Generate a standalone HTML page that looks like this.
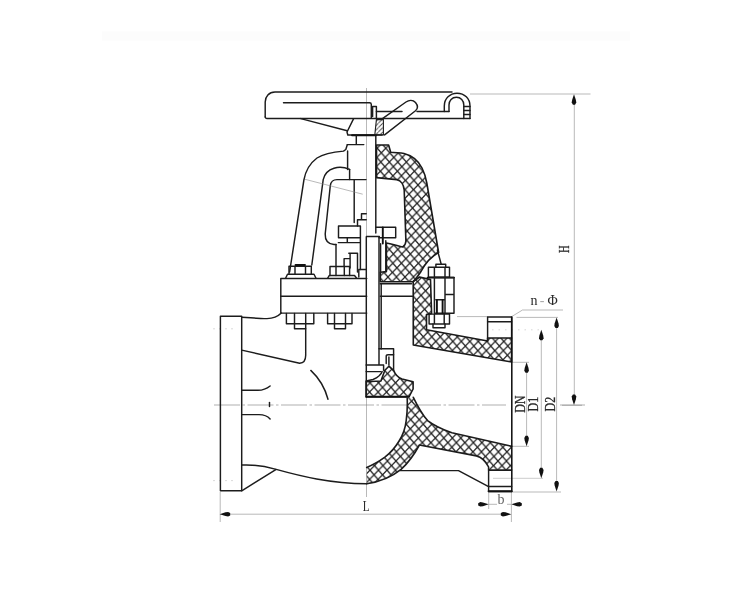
<!DOCTYPE html>
<html><head><meta charset="utf-8"><title>valve</title>
<style>
html,body{margin:0;padding:0;background:#fff;}
body{width:738px;height:596px;overflow:hidden;position:relative;font-family:"Liberation Serif",serif;}
svg{position:absolute;left:0;top:0;display:block;}
.t,.c{filter:blur(0.35px)}
.B{filter:blur(0.65px)}
.m{fill:none;stroke:#1c1c1c;stroke-width:1.45;stroke-linejoin:round;stroke-linecap:round}
.k{fill:none;stroke:#111;stroke-width:1.9;stroke-linejoin:round;stroke-linecap:round}
.t{fill:none;stroke:#8a8a8a;stroke-width:0.6}
.c{fill:none;stroke:#7a7a7a;stroke-width:0.6}
.h{fill:url(#xh);stroke:#1a1a1a;stroke-width:1.6;stroke-linejoin:round}
.a{fill:#111;stroke:none}
text{font-family:"Liberation Serif",serif;font-size:11px;fill:#2a2a2a}
</style></head><body>
<svg width="738" height="596" viewBox="0 0 738 596">
<defs>
<pattern id="xh" width="8.5" height="9.2" patternUnits="userSpaceOnUse" x="2" y="1" patternTransform="skewX(-2.8)">
<path d="M-1,-1.082L9.5,10.282M-1,10.282L9.5,-1.082" stroke="#202020" stroke-width="1.3" fill="none"/>
</pattern>
<pattern id="dh" width="4.4" height="4.4" patternUnits="userSpaceOnUse">
<path d="M-1,5.4L5.4,-1" stroke="#444" stroke-width="0.9" fill="none"/>
</pattern>
</defs>
<rect width="738" height="596" fill="#fff"/>
<rect x="102" y="31.5" width="528" height="9" fill="#fcfcfc"/>
<!-- centre lines -->
<path class="c" d="M366.4,88V497"/>
<path class="c" d="M214,405H506" stroke-dasharray="26 2.5 2.5 2.5" stroke="#8a8a8a" stroke-width="0.6"/>
<path class="c" d="M560,405H585" stroke="#aaa" stroke-width="0.6"/>

<path d="M213,328.8H237M213,480.6H237" stroke="#ccc" stroke-width="0.7" stroke-dasharray="2 4" fill="none"/>
<!-- dimension lines -->
<g class="t">
<path d="M470,94H590.5"/>
<path d="M574.3,100V399"/>
<path d="M562,405.3H582"/>
<path d="M220.2,492V522M511.4,492V522"/>
<path d="M226,514.2H505"/>
<path d="M488.7,492V509"/>
<path d="M488.7,504.3H497M507,504.3H511"/>
<path d="M526.6,368V440M512,362.3H529M512,446.3H529"/>
<path d="M541.3,336V472"/>
<path d="M492,329.8H543" stroke-dasharray="1.5 5" stroke="#bbb"/>
<path d="M493,478.3H543" stroke="#aaa"/>
<path d="M556.6,324V485M516.5,317.4H558M512,492H561"/>
<path d="M512,316.4L522.5,310H563"/>
<path d="M457,316.6H488"/>
</g>
<g class="B">
<!-- arrows -->
<g class="a">
<path d="M574.0,94.2L575.9,100.0L576.3,102.6L575.1,104.7L572.9,104.7L571.7,102.6L572.1,100.0Z"/>
<path d="M574.0,405.0L572.1,399.2L571.7,396.6L572.9,394.5L575.1,394.5L576.3,396.6L575.9,399.2Z"/>
<path d="M219.7,514.2L225.5,512.3L228.1,511.9L230.2,513.1L230.2,515.4L228.1,516.5L225.5,516.1Z"/>
<path d="M511.3,514.2L505.5,516.1L502.9,516.5L500.8,515.4L500.8,513.1L502.9,511.9L505.5,512.3Z"/>
<path d="M488.7,504.3L482.9,506.2L480.3,506.6L478.2,505.4L478.2,503.2L480.3,502.0L482.9,502.4Z"/>
<path d="M511.3,504.3L517.1,502.4L519.7,502.0L521.8,503.2L521.8,505.4L519.7,506.6L517.1,506.2Z"/>
<path d="M526.6,362.3L528.5,368.1L528.9,370.7L527.8,372.8L525.5,372.8L524.3,370.7L524.7,368.1Z"/>
<path d="M526.6,446.3L524.7,440.5L524.3,437.9L525.5,435.8L527.8,435.8L528.9,437.9L528.5,440.5Z"/>
<path d="M541.3,329.8L543.2,335.6L543.6,338.2L542.4,340.3L540.1,340.3L539.0,338.2L539.4,335.6Z"/>
<path d="M541.3,478.3L539.4,472.5L539.0,469.9L540.1,467.8L542.4,467.8L543.6,469.9L543.2,472.5Z"/>
<path d="M556.6,317.5L558.5,323.3L558.9,325.9L557.8,328.0L555.5,328.0L554.3,325.9L554.7,323.3Z"/>
<path d="M556.6,491.5L554.7,485.7L554.3,483.1L555.5,481.0L557.8,481.0L558.9,483.1L558.5,485.7Z"/>
</g>

<!-- labels -->
<text transform="translate(362.8,510.7) scale(0.8,1)" style="font-size:14px">L</text>
<text x="497.6" y="504.3" style="font-size:14px;fill:#666">b</text>
<text transform="translate(568.9,249.3) rotate(-90) scale(0.7,1)" text-anchor="middle" style="font-size:15px;stroke:#2a2a2a;stroke-width:0.3">H</text>
<text transform="translate(524.5,404.2) rotate(-90) scale(0.8,1)" text-anchor="middle" style="font-size:15px;stroke:#2a2a2a;stroke-width:0.3">DN</text>
<text transform="translate(538.3,404.2) rotate(-90) scale(0.8,1)" text-anchor="middle" style="font-size:15px;stroke:#2a2a2a;stroke-width:0.3">D1</text>
<text transform="translate(554.6,404.2) rotate(-90) scale(0.8,1)" text-anchor="middle" style="font-size:15px;stroke:#2a2a2a;stroke-width:0.3">D2</text>
<text y="305" style="font-size:14px"><tspan x="530.4">n</tspan><tspan x="539.8" style="fill:#aaa">-</tspan><tspan x="547.6" style="font-size:14px">Φ</tspan></text>

<!-- ============ hatched regions ============ -->
<!-- bonnet -->
<path class="h" d="M376.5,145H388.6L390.7,152.2C396,153 400,152.5 404,153.5C412,155.5 418,160 422,168C425,174 426,178 426.8,183L438.6,252.5C432,256 426,262 421,271.5C418,276 416,279 413,281.7H380.3V272.2L386.4,271.5V243C393,244 398,246 402.8,247C405,245.5 405.8,243 405.9,241L404.2,190C403.8,185 401,180.5 396.7,179.6L376.5,177.6Z"/>
<!-- body neck + upper outlet -->
<path class="h" d="M413.2,281.7L419.6,277L430.5,279.6L431.6,313.5L426.5,314.6V329.8L487.6,341V338H511.6V362L413.3,345Z"/>
<!-- seat -->
<path class="h" d="M366.1,381.7L380.9,381L384.9,370.3L388.9,366.2L393.6,370.3C395,374 398,377.5 402,379L413.1,381.7V389L409,397H366.1Z"/>
<!-- lower wall -->
<path class="h" style="stroke:none" d="M407.2,398.3L413.3,397.3C417,405 422,414 427.6,420.6C436,427 444,430 451.9,432.8L511.6,446.3V470.1H488.6V467C485,460 481,457 476.4,455.9L419.4,445C414,455 408,463 401.1,469.4C391,477.5 379,482 366.7,483.7V467.4C373,465 379,461.5 384.9,457.2C391,452.5 395.5,447 399.1,441C403.5,434 405.5,427 406.2,420.6C407.2,413 407.5,405 407.2,398.3Z"/>
<path class="m" style="stroke-width:1.6" d="M413.3,397.3C417,405 422,414 427.6,420.6C436,427 444,430 451.9,432.8L511.6,446.3M511.6,470.1H488.6V467C485,460 481,457 476.4,455.9L419.4,445C414,455 408,463 401.1,469.4C391,477.5 379,482 366.7,483.7M366.7,467.4C373,465 379,461.5 384.9,457.2C391,452.5 395.5,447 399.1,441C403.5,434 405.5,427 406.2,420.6C407.2,413 407.5,405 407.2,398.3"/>

<!-- ============ handwheel ============ -->
<path class="m" d="M265.2,117V102C265.2,96.5 269,92 275,92H452"/>
<path class="m" d="M265.2,117Q265.2,118.4 266.8,118.4H470"/>
<path class="m" d="M283.5,102.8H369.5Q371.3,102.8 371.3,104.5V118"/>
<path class="m" d="M372.6,116.6V106.4H376.4V118"/>
<path class="m" d="M376.4,111.5H402"/>
<path class="m" d="M417,111.5H449"/>
<path class="m" d="M444.3,111.5V106C444.3,98.5 450,93.2 457,93.2C464.5,93.2 470,98.5 470,106V118.4"/>
<path class="m" d="M449,111.5V105C449,100.5 452,97.3 456.4,97.3C460.8,97.3 463.8,100.5 463.8,105V118.4"/>
<path class="m" d="M463.8,106.5H470M463.8,110.5H470M463.8,114.5H470" stroke-width="0.9"/>
<!-- knob handle -->
<path class="m" d="M382.8,118.4L406,102C409,100 413,100 415.5,102.5C418,105.5 418,108.5 415.5,110.8L384.6,134.9"/>
<!-- hub -->
<path class="m" d="M353.5,118.9L347,132L347.8,135H382.1"/>
<path class="k" d="M352,135.3H376"/>
<path d="M376.4,119.6H383.4V134.9H374.8Z" fill="url(#dh)" stroke="#1c1c1c" stroke-width="1.1"/>
<path class="m" d="M300.8,118.6L347.2,130.8"/>
<path class="m" d="M356.3,135.8V144.6M347.2,144.6H363.8"/>

<!-- ============ yoke (left, external) ============ -->
<path class="m" d="M347.2,145L345.8,149.5L343.5,151.1C333,152 324,153.5 317,158C309,164 305.5,171 303.9,180L289.6,272"/>
<path class="m" d="M347.6,151V169.4"/>
<path class="m" d="M349.6,169.4C344,167 338,167 334,168.2C328,170 324.5,174 323.2,179.6L311.8,265"/>
<path class="m" d="M349.6,169.4V179.6"/>
<path class="m" d="M366,179.6H337C333,179.6 330.8,182 330.3,185.7L325.2,234C325,240 328,244 334,244.5H336"/>
<path class="m" d="M354.2,179.6V222.6"/>
<path class="m" d="M336,244.5V266.4"/>
<!-- gland plate -->
<path class="m" d="M338.5,226H360.4V237.8H338.5Z"/>
<path class="m" d="M347.3,237.7V242.3M338.3,242.6H360.2"/>
<path class="m" d="M360.4,237.9V269.4"/>
<path class="m" d="M361.5,219.8V213.7H366.2M357.5,226V219.8H366.2"/>
<path class="m" d="M358.8,277V269.4H366.2"/>
<path class="m" d="M366.3,237V397"/>
<path class="m" d="M348.8,253.3H357.5V272M344.1,258.6H350.1M350.1,253.3V268M344.1,258.6V266"/>
<!-- thin oblique line -->
<path class="t" d="M305,179.3L362.7,194.2"/>

<!-- nuts on bonnet flange -->
<path class="m" d="M289,274.2V266.2H311.3V274.2M295,266.2V274.2M305.5,266.2V274.2"/>
<path class="k" d="M295.5,265H305"/>
<path class="m" d="M285.6,278.3L287.5,274.2H314L316,278.3"/>
<path class="m" d="M330,275.5V266.4H349.6V275.5M336,266.4V275.5M344.3,266.4V275.5"/>
<path class="m" d="M327.6,278.3L329.2,275.5H354.5L356.7,278.3"/>

<!-- bonnet flange -->
<path class="m" d="M366.7,278.5H280.8V312.5"/>
<path class="m" d="M280.8,296.3H366.7"/>
<path class="m" d="M280.8,313.1H366.7"/>

<!-- stem -->
<path class="m" d="M375.8,136V233M366.5,236.4H379.4M379,236.4V364.5"/>

<path class="m" d="M381.2,283.7V349" stroke-width="0.8"/>

<!-- right gland -->
<path class="m" d="M376,227.2H395.7V237.7H379"/>
<path class="k" d="M382.8,227.5V243.5" stroke-width="2"/>
<path class="m" d="M380.6,243.8V272.5M385.8,240.8V272"/>
<!-- cavity below bonnet hatch -->
<path class="m" d="M380.3,283.7H411.5M380.3,296.3H412.5"/>

<!-- right bolt -->
<path class="m" d="M437.4,250L441.2,264.3"/>
<path class="m" d="M435.9,267.3V264.3H445.7V267.3"/>
<path class="m" d="M428.4,267.3H449.5V277.1H428.4ZM434.4,267.3V277.1M445,267.3V277.1"/>
<path class="k" d="M427.6,277.6H454" stroke-width="2"/>
<path class="m" d="M434.4,277.5H454V313.3H434.4ZM445,277.5V313.3M445,294.5H454M435.9,299.8H445"/>
<path class="k" d="M436.9,300V313.3M442.6,300V313.3" stroke-width="2"/>
<path class="m" d="M429.1,314.1H449.5V323.9H429.1ZM434.4,314.1V323.9M444.2,314.1V323.9"/>
<path class="m" d="M433,323.9V327.7H445V323.9"/>

<!-- right flange -->
<path class="m" d="M487.6,341V317H511.6V338"/>
<path class="m" d="M487.6,321.7H511.6"/>
<path class="k" d="M511.8,317V491.5" style="stroke-width:1.55"/>
<path class="m" d="M488.6,470.1V491.5H511.6M488.6,486.4H511.6"/>
<path class="k" d="M488.6,491.3H511.6"/>
<path class="m" d="M400,470.6H458.5L488.6,486.6"/>

<!-- disc -->
<path class="m" d="M379,348.8H393.6V370.3"/>
<path class="m" d="M386.2,363.6V356.5Q386.2,354.8 388,354.8H393.6"/>
<path class="m" d="M388.9,357V365"/>
<path class="m" d="M366.1,364.9H383.6V370.3M366.1,371.6H381"/>
<path class="m" d="M366.1,381L373,379.5C378,377.5 381,375 382.2,371.6"/>
<path class="k" d="M366.5,396.6H409" stroke-width="2"/>

<!-- ============ body left ============ -->
<path class="m" d="M220.4,316.2H241.7V490.8H220.4Z"/>
<path class="m" d="M241.7,317.2C250,317.8 260,318.5 267,318.6C273,318.6 278,316.5 281.3,313.1"/>
<!-- nuts under flange -->
<path class="m" d="M286.4,313.5V323.7H313.8V313.5M294.5,313.5V328.8H305.7V313.5M294.5,323.7H305.7"/>
<path class="m" d="M327.6,313.5V323.7H352V313.5M334.5,313.5V328.8H345.5V313.5M334.5,323.7H345.5"/>
<path class="m" d="M305.7,328.8V355.2C305.7,360 303.5,363 299.6,363.3L241.7,350.1"/>
<path class="m" d="M310.8,370.4C319,378 325,388 328,399.3"/>
<path class="m" d="M241.7,390.3H258C263,390.3 267,388.5 270.1,386"/>
<path class="m" d="M241.7,414.6H259C264,414.6 267.5,416 270.1,419"/>
<path class="m" d="M269.5,402.5V406.5" stroke-width="1.6"/>
<path class="m" d="M241.7,465C252,464.6 264,465.5 276.2,469.4C300,476 330,483.5 366.7,483.7"/>
<path class="m" d="M241.7,490.8L276.2,469.4"/>
</g>
</svg>
</body></html>
